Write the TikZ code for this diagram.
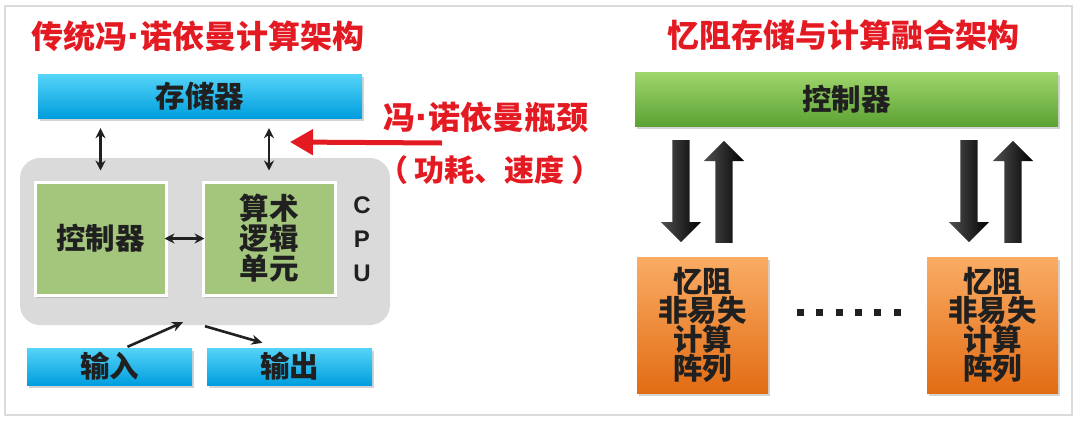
\documentclass[tikz,border=0pt]{standalone}
\usepackage{fontspec}
\setmainfont{Noto Sans CJK SC}
\newfontfamily\latin{Liberation Sans}
\usetikzlibrary{arrows.meta,shapes.arrows,shadows,calc}

\definecolor{titlered}{RGB}{228,26,34}
\definecolor{ink}{RGB}{32,32,32}
\definecolor{cpugray}{RGB}{218,218,218}
\definecolor{unitgreen}{RGB}{163,198,124}

\newcommand{\vdot}{{\latin\fontsize{42}{34}\selectfont\raisebox{-2pt}{·}}}

\tikzset{
  boxfont/.style={font=\bfseries\fontsize{29.5}{30}\selectfont},
  softshadow/.style={drop shadow={shadow xshift=1.5pt, shadow yshift=-2.5pt, opacity=0.35}},
  bluebar/.style={boxfont, draw=none, inner sep=0pt, text=ink, softshadow,
    top color={rgb,255:red,85;green,212;blue,248}, bottom color={rgb,255:red,0;green,158;blue,222}},
  greenbar/.style={boxfont, draw=none, inner sep=0pt, text=ink, softshadow,
    top color={rgb,255:red,160;green,214;blue,108}, bottom color={rgb,255:red,92;green,162;blue,52}},
  unitbox/.style={boxfont, draw=white, line width=3pt, fill=unitgreen, inner sep=0pt, text=ink,
    align=center, softshadow},
  arraybox/.style={font=\bfseries\fontsize{29.5}{28.5}\selectfont, draw=none, inner sep=0pt, text=ink,
    align=center, softshadow,
    top color={rgb,255:red,250;green,172;blue,100}, bottom color={rgb,255:red,226;green,108;blue,20}},
  titletext/.style={font=\bfseries\fontsize{32}{34}\selectfont, text=titlered},
  simplex/.style={line width=2.6pt, ink, -{Stealth[length=11pt,width=10pt]}},
  duplex/.style={line width=2.6pt, ink, {Stealth[length=10pt,width=10pt]}-{Stealth[length=10pt,width=10pt]}},
  fatpipe/.style={single arrow, draw=none, inner xsep=0pt, inner ysep=8.5pt, minimum height=102pt,
    single arrow head extend=11.5pt, left color=black!68, right color=black}
}

\begin{document}
\begin{tikzpicture}[x=1pt,y=-1pt]
\useasboundingbox (0,0) rectangle (1080,424);
\draw[black!14, line width=1.2pt] (5,6) rectangle (1072,415);

% titles
\node[titletext] (oldtitle) at (198,36) {传统冯\vdot 诺依曼计算架构};
\node[titletext] (newtitle) at (843,35) {忆阻存储与计算融合架构};

% cpu background
\node[fill=cpugray, rounded corners=20pt, minimum width=370pt, minimum height=167pt] (cpu) at (205,241.5) {};
\node[font=\latin\bfseries\fontsize{24}{34}\selectfont, align=center, text=ink] (cpuname) at (362,239) {C\\P\\U};

\def \Nodes{ mem/200/96/324/44/bluebar/存储器, in/109.5/366.5/165/37/bluebar/输入, out/289.5/366.5/165/37/bluebar/输出, ctrlL/100.5/238.5/131/113/unitbox/控制器, alu/269/238.5/132/113/unitbox/{算术\\逻辑\\单元}, ctrlR/846.5/99/423/54/greenbar/控制器, arrL/702.5/325/131/136/arraybox/{忆阻\\非易失\\计算\\阵列}, arrR/992.5/325/131/136/arraybox/{忆阻\\非易失\\计算\\阵列}}
\foreach \id / \x / \y / \w / \h / \s / \t in \Nodes{
    \node[\s, minimum width=\w pt, minimum height=\h pt] (\id) at (\x, \y) {\t};
}

% von neumann links
\foreach \a / \b in {ctrlL/mem, alu/mem}{
    \path[draw,duplex,shorten <=10pt,shorten >=10pt] (\a.north) -- (\a.north |- \b.south);
}
\path[draw,duplex,shorten <=-3pt,shorten >=-3pt] (ctrlL.east) -- (alu.west);
\path[draw,simplex] ($(in.north)+(18,-1)$) -- ($(cpu.south)+(-22,-3)$);
\path[draw,simplex] ($(cpu.south)+(0,1)$) -- ($(out.north)+(-27,-5)$);

% bottleneck
\coordinate (neck) at (442,143);
\coordinate (neckend) at (290,142);
\path[draw,titlered,line width=5pt,-{Triangle[length=23pt,width=25pt]}] (neck) -- (neckend);
\node[font=\bfseries\fontsize{32}{34}\selectfont, text=titlered] (bottleneck) at (486,117) {冯\vdot 诺依曼瓶颈};
\node[font=\bfseries\fontsize{30}{32}\selectfont, text=titlered] (cost) at (490,170) {（ 功耗、速度 ）};

% memristor pipes
\def \Pipes{ p1/681/140/-90, p2/724/243/90, p3/969/140/-90, p4/1013/243/90}
\foreach \id / \x / \y / \r in \Pipes{
    \node[fatpipe, rotate=\r, anchor=tail] (\id) at (\x, \y) {};
}
\foreach \i in {0,...,5}{
    \fill[ink] (797+\i*19.3, 308.5) rectangle ++(7,7);
}
\end{tikzpicture}
\end{document}
